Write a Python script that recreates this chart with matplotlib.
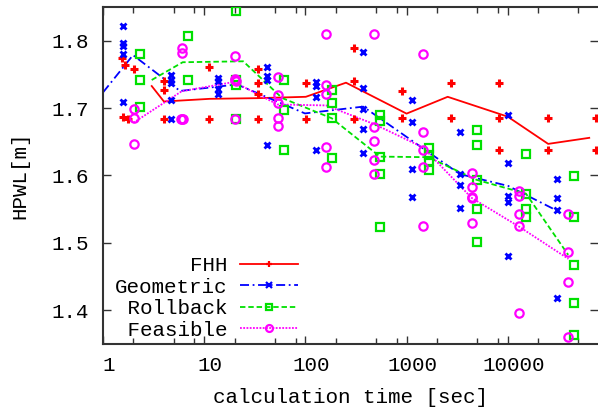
import numpy as np
import matplotlib
matplotlib.use("Agg")
import matplotlib.pyplot as plt
import matplotlib.transforms as mtransforms
from matplotlib.lines import Line2D
from matplotlib.ticker import LogLocator, FixedLocator, NullFormatter

plt.rcParams["font.family"] = ["Liberation Mono", "DejaVu Sans Mono"]
plt.rcParams["font.size"] = 15

# scattered runs: calculation time [sec] and HPWL [m]
fhh_t = [1.54, 1.66, 2.01, 1.59, 1.78, 4.0, 4.0, 4.0, 11.2, 11.2, 34, 34, 34, 34,
         101, 101, 303, 303, 303, 910, 910, 2750, 2750, 8200, 8200, 8200,
         24800, 24800, 74000, 74000]
fhh_v = [1.775, 1.764, 1.758, 1.687, 1.684, 1.741, 1.727, 1.684, 1.761, 1.684,
         1.759, 1.738, 1.721, 1.684, 1.738, 1.684, 1.790, 1.741, 1.684,
         1.725, 1.685, 1.738, 1.685, 1.738, 1.685, 1.638, 1.685, 1.638, 1.685, 1.638]

geo_t = [1.56] * 5 + [4.73] * 5 + [13.7] * 4 + [41.5] * 4 + [126] * 4 + [373] * 5 \
        + [1125] * 4 + [3370] * 4 + [10100] * 5 + [30600] * 4
geo_v = [1.823, 1.797, 1.792, 1.780, 1.710,
         1.749, 1.742, 1.738, 1.712, 1.684,
         1.745, 1.740, 1.728, 1.721,
         1.762, 1.748, 1.742, 1.645,
         1.7395, 1.733, 1.717, 1.638,
         1.784, 1.7306, 1.699, 1.669, 1.634,
         1.7116, 1.680, 1.609, 1.568,
         1.664, 1.602, 1.586, 1.551,
         1.690, 1.618, 1.570, 1.561, 1.480,
         1.5946, 1.567, 1.548, 1.418]

rb_t = [2.32] * 3 + [6.87] * 2 + [20.6] * 4 + [61.5] * 3 + [182] * 4 + [546] * 5 \
       + [1665] * 4 + [5020] * 5 + [15000] * 4 + [45400] * 5
rb_v = [1.780, 1.742, 1.702,
        1.807, 1.742,
        1.845, 1.742, 1.735, 1.6845,
        1.742, 1.6975, 1.638,
        1.727, 1.7074, 1.685, 1.6266,
        1.6896, 1.6807, 1.6269, 1.6024, 1.5232,
        1.6406, 1.6306, 1.6217, 1.6083,
        1.6682, 1.645, 1.5935, 1.5504, 1.5018,
        1.6325, 1.573, 1.550, 1.539,
        1.5994, 1.5377, 1.4664, 1.4111, 1.3627]

fe_t = [2.01] * 3 + [6.04, 6.04, 5.95, 6.04, 6.12] + [20.3, 20.0, 20.3, 20.6, 20.3] \
       + [53.2] * 5 + [160] * 5 + [482] * 5 + [1452] * 5 + [4400] * 5 + [13050] * 5 + [39800] * 4
fe_v = [1.6994, 1.6856, 1.6474,
        1.789, 1.782, 1.684, 1.6845, 1.684,
        1.778, 1.743, 1.742, 1.741, 1.684,
        1.746, 1.720, 1.7074, 1.6856, 1.6737,
        1.810, 1.7339, 1.7208, 1.6428, 1.6128,
        1.8107, 1.6727, 1.6511, 1.6236, 1.6024,
        1.7804, 1.6648, 1.6373, 1.6128, 1.5244,
        1.6039, 1.583, 1.5687, 1.566, 1.530,
        1.5774, 1.5692, 1.5422, 1.5251, 1.3954,
        1.5434, 1.4865, 1.4412, 1.3602]

# trend lines
fhh_lt = [3.03, 4.0, 11.4, 34, 101, 252, 1000, 2550, 10000, 25100, 63900]
fhh_lv = [1.733, 1.710, 1.714, 1.715, 1.717, 1.738, 1.692, 1.717, 1.6875, 1.647, 1.656]

geo_lt = [1.0, 1.98, 5.77, 21.1, 99, 373, 3370, 10100, 30600]
geo_lv = [1.7235, 1.779, 1.7257, 1.7354, 1.6923, 1.7024, 1.602, 1.5845, 1.5478]

rb_lt = [3.03, 6.13, 24.3, 58.7, 182, 546, 1638, 4930, 15130, 39600]
rb_lv = [1.742, 1.7684, 1.7698, 1.7153, 1.6851, 1.6281, 1.6272, 1.5935, 1.5731, 1.482]

fe_lt = [2.0, 6.0, 19.7, 53.2, 160, 482, 1452, 4400, 13050, 39800]
fe_lv = [1.6785, 1.7253, 1.7391, 1.7056, 1.7042, 1.6762, 1.6418, 1.5667, 1.5236, 1.476]

labels = ["      FHH", "Geometric", " Rollback", " Feasible"]
colors = ["#ff0000", "#0000ff", "#00e000", "#ff00ff"]
styles = ["-", (0, (5, 2, 1, 2)), (0, (3, 1.6)), (0, (1, 0.8))]
markers = ["P", "x", "s", "o"]

fig = plt.figure(figsize=(5.98, 4.11), dpi=100)
ax = fig.add_axes([103 / 598, 0.1639, 1 - 103 / 598, 0.8182])

series = [(fhh_t, fhh_v, fhh_lt, fhh_lv), (geo_t, geo_v, geo_lt, geo_lv),
          (rb_t, rb_v, rb_lt, rb_lv), (fe_t, fe_v, fe_lt, fe_lv)]
handles = []
for (pt, pv, lt, lv), c, ls, m, lab in zip(series, colors, styles, markers, labels):
    ax.plot(lt, lv, color=c, ls=ls, lw=1.3, zorder=2)
    if m == "P":
        ax.plot(pt, pv, ls="none", marker="+", ms=6, mew=2.2, color=c, zorder=3)
    elif m == "x":
        ax.plot(pt, pv, ls="none", marker="x", ms=5, mew=2.0, color=c, zorder=3)
    else:
        ax.plot(pt, pv, ls="none", marker=m, ms=6, mew=1.6, mfc="none", mec=c, zorder=3)
    mk = "+" if m == "P" else m
    handles.append(Line2D([], [], color=c, ls=ls, lw=1.3, marker=mk, ms=5,
                          mew=1.6, mfc="none", mec=c))

ax.set_xscale("log")
ax.set_xlim(1, 78000)
ax.set_ylim(1.35, 1.85)
ax.set_yticks([1.4, 1.5, 1.6, 1.7, 1.8])
ax.set_xticks([1, 10, 100, 1000, 10000])
ax.set_xticklabels(["1", "10", "100", "1000", "10000"])
ax.xaxis.set_minor_locator(LogLocator(base=10, subs=(2, 5, 8)))
ax.xaxis.set_minor_formatter(NullFormatter())
ax.tick_params(which="both", direction="in", top=True, right=True, color="#333333")
ax.tick_params(which="major", length=6, width=1)
ax.tick_params(which="minor", length=4, width=1)
ax.tick_params(axis="y", pad=10)
ax.tick_params(axis="x", pad=9)
for s in ["left", "bottom", "top"]:
    ax.spines[s].set_linewidth(1.5)
    ax.spines[s].set_color("#333333")
ax.spines["right"].set_visible(False)

off = mtransforms.ScaledTranslation(6 / 100, 0, fig.dpi_scale_trans)
for lab in ax.get_xticklabels():
    lab.set_transform(lab.get_transform() + off)

ax.set_xlabel("calculation time [sec]", labelpad=9)
ax.set_ylabel("HPWL[m]", labelpad=16)

ax.legend(handles, labels, loc="lower left", bbox_to_anchor=(0.025, 0.012),
          frameon=False, markerfirst=False, handlelength=2.75, handletextpad=0.6,
          labelspacing=0.12, borderpad=0, borderaxespad=0, numpoints=1)

fig.savefig("out.png", dpi=100)
